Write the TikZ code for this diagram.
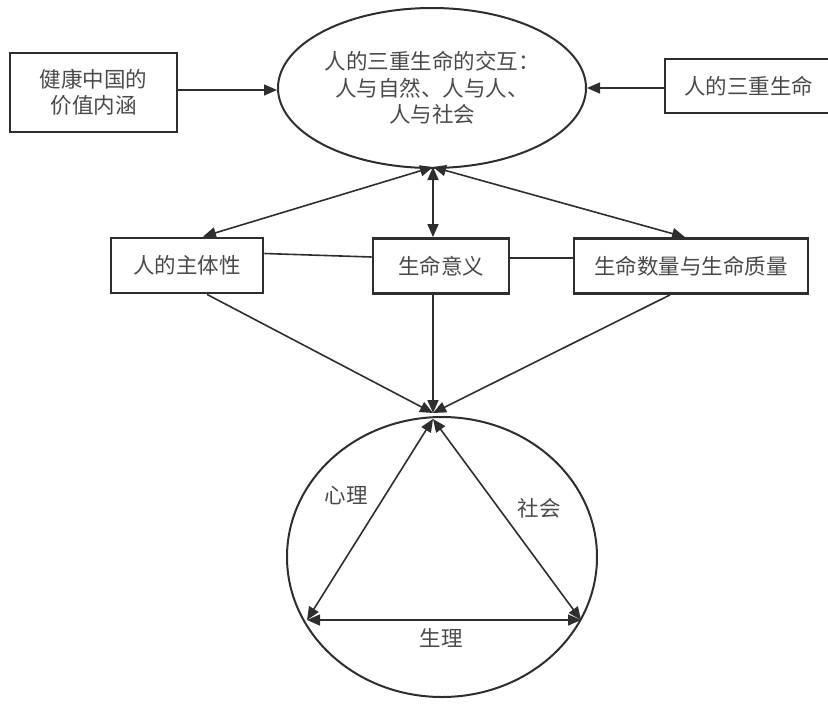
\documentclass[tikz,border=0pt]{standalone}
\usepackage{fontspec}
\newfontfamily\cjk{Noto Sans CJK SC}
\usetikzlibrary{shapes.geometric,arrows.meta}
\definecolor{linec}{HTML}{2E2E2E}
\definecolor{txt}{HTML}{4A4A4A}
\begin{document}
\begin{tikzpicture}[x=1pt,y=-1pt,
  >={Triangle[length=13pt,width=11pt]},
  lbl/.style={text=txt,font=\cjk\fontsize{21.5}{26.5}\selectfont,inner sep=0pt,align=center},
  rbox/.style={lbl,draw=linec,line width=2.8pt,fill=white},
  oval/.style={lbl,ellipse,draw=linec,line width=2pt},
  conn/.style={draw=linec,line width=1.6pt}]
\useasboundingbox (0,0) rectangle (828,705);
% top row
\node[oval,minimum width=308pt,minimum height=160pt] (E) at (432,88)
  {人的三重生命的交互：\\人与自然、人与人、\\人与社会};
\node[rbox,minimum width=167pt,minimum height=79pt] (L) at (93.5,92.5) {健康中国的\\价值内涵};
\node[rbox,minimum width=167pt,minimum height=54pt] (R) at (748.5,86) {人的三重生命};
\draw[conn,->] (L.east |- 0,90) -- (E.west |- 0,90);
\draw[conn,->] (R.west |- 0,88) -- (E.east);
% middle row
\node[rbox,minimum width=152pt,minimum height=55pt] (A) at (187,265.5) {人的主体性};
\node[rbox,minimum width=136pt,minimum height=55pt] (B) at (441,266) {生命意义};
\node[rbox,minimum width=234pt,minimum height=55pt] (C) at (691,266) {生命数量与生命质量};
\draw[conn] ([yshift=12pt]A.east) -- ([yshift=9pt]B.west);
\draw[conn,line width=2.8pt] ([yshift=8pt]B.east) -- ([yshift=8pt]C.west);
\coordinate (Es) at (433,167);
\draw[conn,<->] (Es) -- ([xshift=16pt]A.north);
\draw[conn,<->] (Es) -- (Es |- B.north);
\draw[conn,<->] (Es) -- ([xshift=-6pt]C.north);
% bottom circle
\node[oval,minimum width=310pt,minimum height=280pt] (K) at (442,557) {};
\coordinate (T0) at (433,413);
\coordinate (T1) at (433,419);
\coordinate (P) at (307,620);
\coordinate (Q) at (581,620);
\draw[conn,->] ([xshift=20pt]A.south) -- (T0);
\draw[conn,->] (T0 |- B.south) -- (T0);
\draw[conn,->] ([xshift=-21pt]C.south) -- (T0);
\draw[conn,<->] (T1) -- (P);
\draw[conn,<->] (T1) -- (Q);
\draw[conn,<->] (P) -- (Q);
\node[lbl] (x1) at (346,496) {心理};
\node[lbl] (x2) at (539,508) {社会};
\node[lbl] (x3) at (441,638) {生理};
\end{tikzpicture}
\end{document}
